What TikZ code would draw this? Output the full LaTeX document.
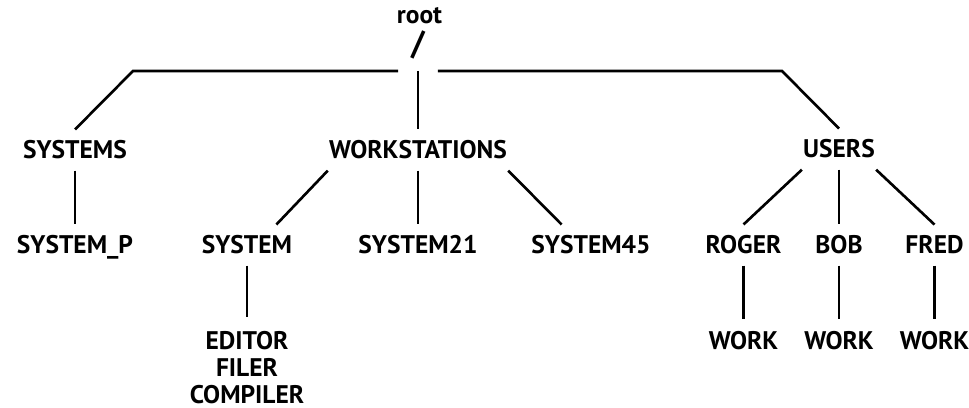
\documentclass[tikz,border=0pt]{standalone}
\usepackage{fontspec}
\setmainfont{PT Sans}
\usetikzlibrary{positioning}

\begin{document}
\begin{tikzpicture}[x=0.02cm, y=-0.02cm, line width=1.5pt,
    dir/.style={font=\bfseries\fontsize{14.5}{15.3}\selectfont, inner xsep=0pt,
      inner ysep=0.2cm, anchor=base, align=center},
    slashnode/.style={font=\bfseries\fontsize{19}{19}\selectfont, anchor=south,
      minimum width=0.74cm, inner sep=0pt, text depth=0.3cm}]
  \useasboundingbox (0,0) rectangle (969,408);
  % root of the file system
  \node[dir, inner ysep=0pt] (root) at (419.5,24) {root};
  \node[slashnode] (slash) at (418,71) {/};
  \coordinate (lbend) at (133,71);
  \coordinate (rbend) at (782,71);
  % first level
  \node[dir] (systems) at (75,159) {SYSTEMS};
  \node[dir] (ws) at (418,159) {WORKSTATIONS};
  \node[dir] (users) at (839,158) {USERS};
  % second level
  \node[dir] (sysp) at (75,254) {SYSTEM\_P};
  \node[dir] (sys) at (247,254) {SYSTEM};
  \node[dir] (sys21) at (418,254) {SYSTEM21};
  \node[dir] (sys45) at (591,254) {SYSTEM45};
  \node[dir] (roger) at (743.5,254) {ROGER};
  \node[dir] (bob) at (839,254) {BOB};
  \node[dir] (fred) at (934.5,254) {FRED};
  % third level (base is the last line)
  \node[dir, inner ysep=0pt] (tools) at (247,403) {EDITOR\\FILER\\COMPILER};
  \node[dir] (rwork) at (743.5,349) {WORK};
  \node[dir] (bwork) at (839,349) {WORK};
  \node[dir] (fwork) at (934.5,349) {WORK};
  % branches
  \draw (slash.south west) -- (lbend) -- (systems.north);
  \draw (slash.south) -- (ws.north);
  \draw (slash.south east) -- (rbend) -- (users.north);
  \draw (systems) -- (sysp);
  \draw (ws.south west) -- (sys.35);
  \draw (ws) -- (sys21);
  \draw (ws.south east) -- (sys45.145);
  \draw (users.south west) -- (roger.north);
  \draw (users) -- (bob);
  \draw (users.south east) -- (fred.north);
  \draw[shorten >=0.26cm] (sys) -- (tools);
  \draw (roger) -- (rwork);
  \draw (bob) -- (bwork);
  \draw (fred) -- (fwork);
\end{tikzpicture}
\end{document}
